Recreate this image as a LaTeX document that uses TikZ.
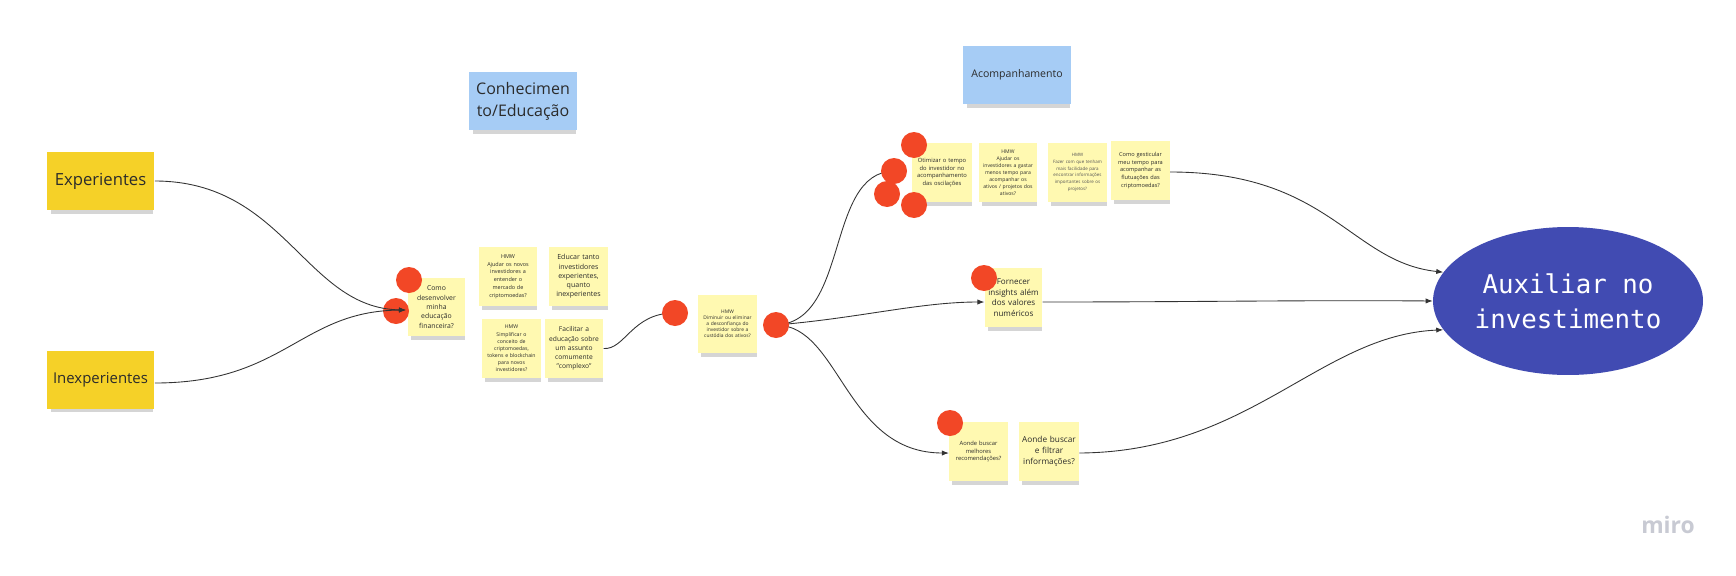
\documentclass[tikz,border=0pt]{standalone}
\usepackage{fontspec}
\setmainfont{Open Sans}
\newfontfamily\monofont{DejaVu Sans Mono}
\usetikzlibrary{shapes.geometric,shadows,arrows.meta}
\definecolor{stk}{HTML}{FFF9B1}
\definecolor{stkdark}{HTML}{F5D128}
\definecolor{stkblue}{HTML}{A6CCF5}
\definecolor{dotred}{HTML}{F24726}
\definecolor{ellblue}{HTML}{414BB2}
\definecolor{txt}{HTML}{2B2B2B}
\definecolor{lnk}{HTML}{333333}
\definecolor{mirogray}{HTML}{C8CAD3}
\newcommand\pxfs[2]{\fontsize{#1pt}{#2pt}\selectfont}
\tikzset{
  stickybase/.style={inner sep=0pt, align=center, text=txt,
    drop shadow={shadow xshift=0.03cm, shadow yshift=-0.11cm, opacity=0.22, fill=black!75, shadow scale=0.95}},
  sticky/.style={stickybase, fill=stk, minimum width=1.17cm, minimum height=1.17cm, text width=1.15cm},
  bigsticky/.style={stickybase, fill=stkdark, minimum width=2.16cm, minimum height=1.16cm, text width=2.1cm},
  bluesticky/.style={stickybase, fill=stkblue, minimum height=1.16cm},
  reddot/.style={circle, fill=dotred, minimum size=0.52cm, inner sep=0pt},
  link/.style={draw=lnk, line width=0.5pt},
  arr/.style={link, -{Latex[length=4pt,width=3pt]}}
}
\begin{document}
\begin{tikzpicture}[x=0.02cm,y=-0.02cm]
\fill[white] (0,0) rectangle (1736,575);
\useasboundingbox (0,0) rectangle (1736,575);

% side boxes
\node[bigsticky, font=\pxfs{9.5}{12}] (exp) at (100.5,181) {Experientes};
\node[bigsticky, font=\pxfs{8.5}{11}] (inexp) at (100.5,379.5) {Inexperientes};

% category labels
\node[bluesticky, minimum width=2.16cm, text width=2.1cm, font=\pxfs{9.1}{12.6}] (conh) at (523,101) {Conhecimen\\to/Educação};
\node[bluesticky, minimum width=2.16cm, text width=2.1cm, font=\pxfs{6.0}{8}] (acomp) at (1017,75) {Acompanhamento};

% education stickies
\node[sticky, minimum width=1.14cm, font=\pxfs{3.9}{5.3}] (como) at (436.5,307) {Como\\desenvolver\\minha\\educação\\financeira?};
\node[sticky, font=\pxfs{3.1}{4.4}] (hmwa) at (508,276.5) {HMW\\Ajudar os novos\\investidores a\\entender o\\mercado de\\criptomoedas?};
\node[sticky, font=\pxfs{4.0}{5.3}] (educ) at (578.5,276.5) {Educar tanto\\investidores\\experientes,\\quanto\\inexperientes};
\node[sticky, font=\pxfs{2.95}{4.05}] (hmwb) at (511.5,348.5) {HMW\\Simplificar o\\conceito de\\criptomoedas,\\tokens e blockchain\\para novos\\investidores?};
\node[sticky, font=\pxfs{3.8}{5.2}] (facil) at (574,348.5) {Facilitar a\\educação sobre\\um assunto\\comumente\\"complexo"};

% trust sticky
\node[sticky, font=\pxfs{2.8}{3.35}] (dimin) at (727.5,324) {HMW\\Diminuir ou eliminar\\a desconfiança do\\investidor sobre a\\custódia dos ativos?};

% monitoring stickies
\node[sticky, minimum width=1.2cm, font=\pxfs{3.3}{4.4}] (otim) at (942,172.5) {Otimizar o tempo\\do investidor no\\acompanhamento\\das oscilações};
\node[sticky, font=\pxfs{2.9}{4.0}] (hmwc) at (1008,172.5) {HMW\\Ajudar os\\investidores a gastar\\menos tempo para\\acompanhar os\\ativos / projetos dos\\ativos?};
\node[sticky, font=\pxfs{2.55}{3.8}, text=txt!80] (hmwd) at (1077.5,172.5) {HMW\\Fazer com que tenham\\mais facilidade para\\encontrar informações\\importantes sobre os\\projetos?};
\node[sticky, font=\pxfs{3.2}{4.5}] (gest) at (1140.5,170.5) {Como gesticular\\meu tempo para\\acompanhar as\\flutuações das\\criptomoedas?};

% insights
\node[sticky, minimum width=1.14cm, font=\pxfs{4.6}{6}] (forn) at (1013.5,297.5) {Fornecer\\insights além\\dos valores\\numéricos};

% search stickies
\node[sticky, font=\pxfs{3.3}{4.3}] (aonda) at (978.5,451.5) {Aonde buscar\\melhores\\recomendações?};
\node[sticky, minimum width=1.2cm, font=\pxfs{4.7}{6.2}] (aondb) at (1049,451.5) {Aonde buscar\\e filtrar\\informações?};

% goal
\node[ellipse, fill=ellblue, minimum width=5.4cm, minimum height=2.96cm, inner sep=0pt, text=white, align=center,
      font=\monofont\pxfs{14.7}{19.8}] (goal) at (1568,301) {Auxiliar no\\investimento};

% connectors drawn below dots
\draw[link] (facil.east) .. controls (625,350) and (632,313) .. (674,313);
\coordinate (dotRc) at (776,325);
\draw[link] (dotRc) .. controls (850,322) and (825,172) .. (894,171);
\draw[arr] (dotRc) .. controls (860,318) and (920,302) .. ([yshift=-0.09cm]forn.west);
\draw[arr] (dotRc) .. controls (840,325) and (845,453) .. ([yshift=-0.03cm]aonda.west);
\draw[arr] ([yshift=-0.03cm]gest.east) .. controls (1330,172) and (1350,262) .. (goal.167);
\draw[arr] ([yshift=-0.09cm]forn.east) .. controls (1200,302) and (1300,300) .. (goal.west);
\draw[arr] ([yshift=-0.03cm]aondb.east) .. controls (1250,452) and (1320,335) .. (goal.193);

% red dots
\node[reddot] (d1) at (409,280) {};
\node[reddot] (d2) at (396,311) {};
\node[reddot] (d3) at (675,313) {};
\node[reddot] (d4) at (dotRc) {};
\node[reddot] (d5) at (914,145) {};
\node[reddot] (d6) at (894,171) {};
\node[reddot] (d7) at (887,194) {};
\node[reddot] (d8) at (914,205) {};
\node[reddot] (d9) at (984,278) {};
\node[reddot] (d10) at (950,423) {};

% incoming arrows over the dot
\coordinate (comoin) at (406,310);
\draw[arr] (exp.east) .. controls (285,181) and (305,308) .. (comoin);
\draw[arr] ([yshift=-0.07cm]inexp.east) .. controls (285,383) and (300,311) .. (comoin);

% watermark
\node[text=mirogray, font=\bfseries\pxfs{13}{15}] (miro) at (1668,525) {miro};
\end{tikzpicture}
\end{document}
